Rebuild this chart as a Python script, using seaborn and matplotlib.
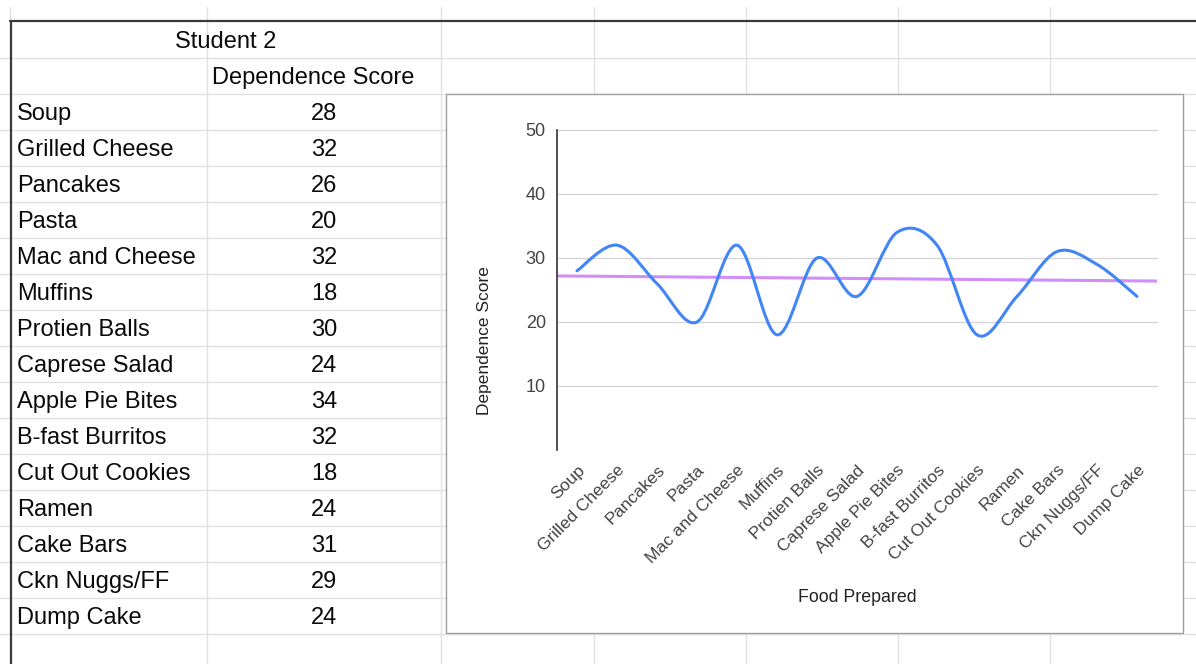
import numpy as np
import matplotlib
matplotlib.use("Agg")
import matplotlib.pyplot as plt
from matplotlib.lines import Line2D
from matplotlib.patches import Rectangle, PathPatch
from matplotlib.path import Path
import seaborn as sns

# ---------------- data ----------------
sheet_title = "Student 2"
value_header = "Dependence Score"
foods = ["Soup", "Grilled Cheese", "Pancakes", "Pasta", "Mac and Cheese",
         "Muffins", "Protien Balls", "Caprese Salad", "Apple Pie Bites",
         "B-fast Burritos", "Cut Out Cookies", "Ramen", "Cake Bars",
         "Ckn Nuggs/FF", "Dump Cake"]
scores = [28, 32, 26, 20, 32, 18, 30, 24, 34, 32, 18, 24, 31, 29, 24]
x_label = "Food Prepared"
y_label = "Dependence Score"
y_ticks = [10, 20, 30, 40, 50]

# ---------------- setup ----------------
W, H = 1196, 664
sns.set_style("white")
plt.rcParams['font.family'] = ['Liberation Sans', 'DejaVu Sans']

fig = plt.figure(figsize=(W / 100, H / 100), dpi=100)
fig.patch.set_facecolor("white")


def fx(x):
    return x / W


def fy(y):
    return 1 - y / H


grid_c = "#e1e1e1"
border_c = "#3a3a3a"

# spreadsheet grid
col_x = [10, 207, 441, 594, 746, 898, 1050]
for x in col_x:
    fig.add_artist(Line2D([fx(x)] * 2, [fy(7), fy(H)], color=grid_c, lw=1, zorder=1))
row_y = [58 + 36 * i for i in range(17)]
for y in row_y:
    fig.add_artist(Line2D([0, 1], [fy(y)] * 2, color=grid_c, lw=1, zorder=1))

# thick table borders
fig.add_artist(Line2D([fx(10), 1], [fy(21)] * 2, color=border_c, lw=1.6, zorder=2))
fig.add_artist(Line2D([fx(10.5)] * 2, [fy(21), 0], color=border_c, lw=1.6, zorder=2))

# table text
tfs = 17
fig.text(fx(226), fy(48), sheet_title, ha="center", va="baseline", fontsize=tfs, color="#0a0a0a")
fig.text(fx(212), fy(84), value_header, ha="left", va="baseline", fontsize=tfs, color="#0a0a0a")
for i, (f, s) in enumerate(zip(foods, scores)):
    base = 120 + 36 * i
    fig.text(fx(17), fy(base), f, ha="left", va="baseline", fontsize=tfs, color="#0a0a0a")
    fig.text(fx(324), fy(base), str(s), ha="center", va="baseline", fontsize=tfs, color="#0a0a0a")

# chart box
fig.add_artist(Rectangle((fx(446), fy(633)), fx(1183) - fx(446), fy(94) - fy(633),
                         facecolor="white", edgecolor="#9e9e9e", lw=1, zorder=3))

# ---------------- chart ----------------
ax = fig.add_axes([fx(557), fy(450), 600 / W, 320 / H])
ax.set_zorder(4)
ax.set_facecolor("white")
n = len(foods)
idx = np.arange(n)
ax.set_xlim(-0.5, n - 0.5)
ax.set_ylim(0, 50)

# linear trendline
sns.regplot(x=idx, y=np.array(scores, dtype=float), scatter=False, ci=None,
            truncate=False, ax=ax,
            line_kws=dict(color="#cf8ef9", lw=2.2, zorder=3, solid_capstyle="butt"))

# smooth curve (Catmull-Rom through data points)
P = np.column_stack([idx, scores]).astype(float)
Pext = np.vstack([P[0], P, P[-1]])
verts = [P[0]]
codes = [Path.MOVETO]
for i in range(n - 1):
    p0, p1, p2, p3 = Pext[i], Pext[i + 1], Pext[i + 2], Pext[i + 3]
    c1 = p1 + (p2 - p0) / 6
    c2 = p2 - (p3 - p1) / 6
    verts += [c1, c2, p2]
    codes += [Path.CURVE4] * 3
ax.add_patch(PathPatch(Path(verts, codes), facecolor="none", edgecolor="#4285f4",
                       lw=2.2, capstyle="round", joinstyle="round", zorder=4))

ax.set_xlim(-0.5, n - 0.5)
ax.set_ylim(0, 50)

for side in ["top", "right", "bottom"]:
    ax.spines[side].set_visible(False)
ax.spines["left"].set_color("#333333")
ax.spines["left"].set_linewidth(1.2)
ax.spines["left"].set_zorder(5)

ax.set_yticks(y_ticks)
ax.yaxis.grid(True, color="#d6d6d6", lw=1)
ax.xaxis.grid(False)
for gl in ax.get_ygridlines():
    gl.set_clip_on(False)
ax.tick_params(axis="y", length=0, pad=8, labelsize=13, labelcolor="#444444")

ax.set_xticks(idx)
ax.set_xticklabels(foods, rotation=45, ha="right", rotation_mode="anchor",
                   fontsize=12.5, color="#444444")
ax.tick_params(axis="x", length=0, pad=9)
for lbl in ax.get_xticklabels():
    lbl.set_x(lbl.get_position()[0])

ax.set_ylabel(y_label, fontsize=12.5, color="#222222")
ax.yaxis.label.set_va("center")
ax.yaxis.set_label_coords((484 - 557) / 600, (450 - 341) / 320)
ax.set_xlabel(x_label, fontsize=12.8, color="#222222")
ax.xaxis.label.set_va("center")
ax.xaxis.set_label_coords(0.5, (450 - 597) / 320)

fig.savefig("out.png", dpi=100)
